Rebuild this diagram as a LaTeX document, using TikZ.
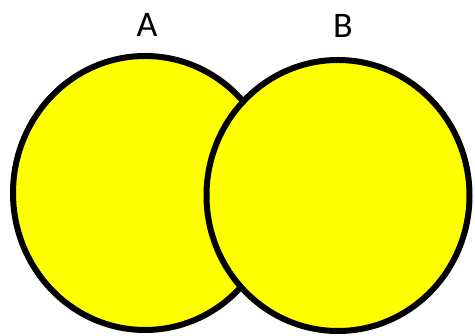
\documentclass[tikz,border=0pt]{standalone}
\usepackage{fontspec}
\setmainfont{Carlito}
\usetikzlibrary{shapes.geometric}
\definecolor{vyellow}{RGB}{255,255,0}
\begin{document}
\begin{tikzpicture}[x=1pt,y=1pt,
  setcircle/.style={ellipse, draw=black, fill=vyellow, line width=6pt, inner sep=0pt},
  setlabel/.style={font=\fontsize{36}{36}\selectfont, inner sep=0pt, anchor=base}]
\useasboundingbox (0,0) rectangle (475,336);
\node[setcircle, minimum width=264pt, minimum height=274pt] (A) at (145,143) {};
\node[setcircle, minimum width=263pt, minimum height=271pt] (B) at (338,140.5) {};
\node[setlabel] (la) at (147,299) {A};
\node[setlabel] (lb) at (343,298) {B};
\end{tikzpicture}
\end{document}
